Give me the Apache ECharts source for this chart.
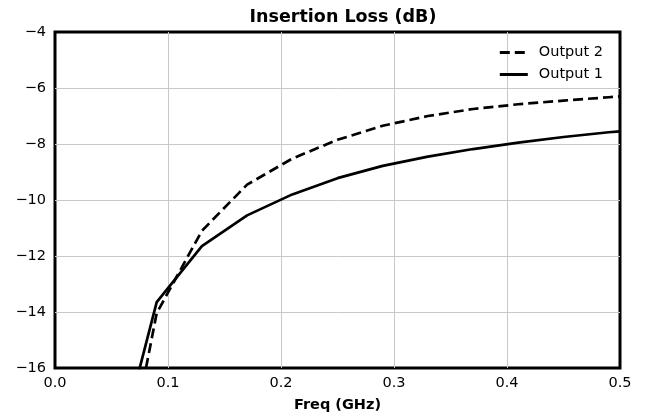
<!DOCTYPE html>
<html>
<head>
<meta charset="utf-8">
<script src="https://cdn.jsdelivr.net/npm/echarts@6/dist/echarts.min.js"></script>
<style>
  html, body { margin: 0; padding: 0; background: #fff; }
  #chart { width: 646px; height: 419px; }
</style>
</head>
<body>
<div id="chart"></div>
<script>
// frequency points (GHz)
var freq = [0.05, 0.09, 0.13, 0.17, 0.21, 0.25, 0.29, 0.33, 0.37, 0.41, 0.45, 0.49, 0.5];
var output1 = [-19.9, -13.65, -11.65, -10.55, -9.8, -9.22, -8.78, -8.45, -8.18, -7.95, -7.75, -7.58, -7.55];
var output2 = [-22.3, -14.04, -11.1, -9.45, -8.52, -7.85, -7.35, -7.0, -6.75, -6.58, -6.45, -6.33, -6.3];

function pairs(xs, ys) {
  var out = [];
  for (var i = 0; i < xs.length; i++) out.push([xs[i], ys[i]]);
  return out;
}

var chart = echarts.init(document.getElementById('chart'));
var font = 'DejaVu Sans';

var option = {
  animation: false,
  textStyle: { fontFamily: font },
  title: {
    text: 'Insertion Loss (dB)',
    left: 338,
    textAlign: 'center',
    top: 3,
    textStyle: { fontFamily: font, fontWeight: 'bold', fontSize: 17.5, color: '#000' }
  },
  grid: {
    left: 55, right: 26, top: 32, bottom: 51,
    show: true, borderColor: '#000', borderWidth: 3
  },
  legend: {
    data: ['Output 2', 'Output 1'],
    orient: 'vertical',
    right: 38,
    top: 40,
    itemWidth: 28,
    itemHeight: 12,
    itemGap: 7,
    itemStyle: { opacity: 0 },
    lineStyle: { width: 3 },
    textStyle: { fontFamily: font, fontSize: 14.5, color: '#000', padding: [0, 0, 0, 6] }
  },
  xAxis: {
    type: 'value',
    min: 0, max: 0.5, interval: 0.1,
    name: 'Freq (GHz)',
    nameLocation: 'middle',
    nameGap: 30,
    nameTextStyle: { fontFamily: font, fontWeight: 'bold', fontSize: 14.5, color: '#000' },
    axisLine: { show: false },
    axisTick: { show: false },
    axisLabel: {
      color: '#000', fontSize: 14.5, margin: 8,
      formatter: function (v) { return v.toFixed(1); }
    },
    splitLine: { showMinLine: false, showMaxLine: false, lineStyle: { color: '#c8c8c8', width: 1 } }
  },
  yAxis: {
    type: 'value',
    min: -16, max: -4, interval: 2,
    axisLine: { show: false },
    axisTick: { show: false },
    axisLabel: {
      color: '#000', fontSize: 14.5, margin: 9,
      formatter: function (v) { return String(v).replace('-', '\u2212'); }
    },
    splitLine: { showMinLine: false, showMaxLine: false, lineStyle: { color: '#c8c8c8', width: 1 } }
  },
  series: [
    {
      name: 'Output 2',
      type: 'line',
      data: pairs(freq, output2),
      symbol: 'none',
      clip: true,
      lineStyle: { color: '#000', width: 2.7, type: [10, 5] },
      itemStyle: { color: '#000' }
    },
    {
      name: 'Output 1',
      type: 'line',
      data: pairs(freq, output1),
      symbol: 'none',
      clip: true,
      lineStyle: { color: '#000', width: 2.7 },
      itemStyle: { color: '#000' }
    }
  ]
};
chart.setOption(option);
</script>
</body>
</html>
